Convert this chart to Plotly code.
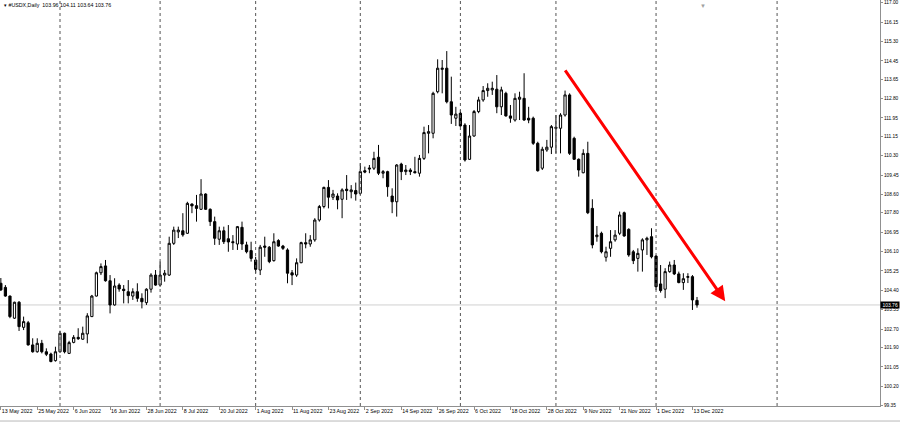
import plotly.graph_objects as go

# ---- data (USDX daily, 13 May 2022 .. 14 Dec 2022), index = trading-day number ----
opens = [104.71,104.53,104.15,103.18,103.88,102.78,102.98,102.01,101.71,102.08,
         101.71,101.61,101.32,101.71,102.52,101.64,102.12,102.34,102.26,102.49,
         103.25,104.15,105.17,105.47,104.82,103.76,104.63,104.45,104.34,104.15,
         104.34,104.05,103.86,104.45,105.07,104.63,105.07,105.07,106.46,106.96,
         107.01,106.90,108.18,108.11,107.95,108.62,107.95,107.41,106.64,107.01,
         106.66,106.53,106.43,107.16,106.39,106.14,105.73,105.29,106.34,106.29,
         105.70,106.58,106.34,106.17,105.17,105.07,105.61,106.49,106.43,106.61,
         107.48,108.07,108.91,108.48,108.53,108.39,108.83,108.72,108.77,108.65,
         109.64,109.76,109.75,110.23,109.53,109.60,108.53,108.28,109.93,109.60,
         109.67,109.60,109.53,110.18,111.28,111.28,113.10,114.08,114.13,112.66,
         111.94,112.16,111.64,110.14,111.16,112.23,112.74,113.15,113.18,113.21,
         112.44,113.03,112.04,111.86,112.77,112.81,111.94,111.94,110.84,109.75,
         110.55,110.67,111.54,111.50,112.08,112.96,111.06,110.14,109.55,110.40,
         107.99,106.75,106.90,105.85,106.24,106.61,106.90,107.80,107.07,106.09,
         105.80,106.17,106.61,106.75,105.90,104.68,104.45,105.22,105.51,105.12,
         104.74,104.97,105.00,103.96]
highs = [104.94,104.63,104.17,103.90,103.93,103.25,103.06,102.30,102.30,102.23,
         101.86,101.67,101.93,102.63,102.55,102.19,102.44,102.74,102.81,103.40,
         104.20,105.22,105.58,105.73,105.07,104.93,104.71,104.63,104.85,104.49,
         104.71,104.27,104.49,105.15,105.29,105.66,105.29,106.75,107.19,107.19,
         107.78,108.28,108.21,108.58,109.27,108.65,107.99,107.63,107.19,107.19,
         107.26,106.82,107.22,107.41,106.53,106.53,105.87,106.39,106.75,106.34,
         106.90,106.64,106.39,106.24,105.29,105.80,106.53,106.90,106.82,107.56,
         108.14,108.94,109.23,108.80,108.65,108.87,109.45,109.01,109.12,109.97,
         109.82,109.89,110.47,110.77,109.67,109.64,108.87,109.93,109.99,109.89,
         109.75,110.25,110.33,111.57,111.64,113.10,114.52,114.49,114.88,113.76,
         112.44,112.30,111.72,111.64,112.30,112.88,113.35,113.47,113.54,113.83,
         113.32,113.10,112.52,113.03,113.10,113.91,112.44,112.01,110.91,110.69,
         110.99,111.64,112.08,112.16,113.15,113.03,111.13,110.18,110.58,110.91,
         108.39,107.22,106.97,106.31,107.04,107.04,107.85,107.85,107.12,106.17,
         106.24,106.68,106.75,107.12,105.95,105.51,105.37,105.66,105.73,105.22,
         105.15,105.15,105.07,104.11]
lows = [104.37,104.12,103.18,103.15,102.62,102.66,101.98,101.67,101.67,101.64,
        101.52,101.25,101.28,101.67,101.64,101.61,102.08,102.23,102.23,102.08,
        103.23,104.13,105.07,104.78,103.39,103.73,104.34,103.83,103.83,103.98,
        103.90,103.61,103.76,104.30,104.60,104.56,104.78,105.03,106.39,106.69,
        106.75,106.87,107.78,107.41,107.92,107.92,107.22,106.39,106.39,106.43,
        106.09,106.17,106.17,106.17,106.02,105.66,105.15,105.07,105.87,105.59,
        105.66,106.31,106.17,104.71,104.63,104.99,105.59,106.24,106.31,106.53,
        107.41,107.99,107.99,108.36,107.95,107.56,108.36,108.43,108.33,108.58,
        109.53,109.53,109.67,109.45,109.31,108.50,107.78,107.63,109.23,109.45,
        109.45,109.53,109.38,110.11,110.40,111.06,113.03,113.03,112.59,111.69,
        111.60,111.57,110.04,110.11,111.13,112.16,112.66,112.88,112.96,112.16,
        112.08,112.01,111.74,111.79,111.86,111.83,111.72,110.77,109.60,109.67,
        110.47,110.37,110.40,110.40,112.01,110.33,110.11,109.38,109.53,107.74,
        106.24,106.53,106.02,105.66,105.87,106.53,106.82,106.75,105.87,105.55,
        105.22,105.22,105.95,105.80,104.42,104.30,104.06,105.17,105.07,104.71,
        104.42,104.72,103.54,103.64]
closes = [104.42,104.15,103.25,103.88,102.81,103.03,102.01,101.71,102.08,101.71,
          101.60,101.28,101.71,102.52,101.71,102.11,102.34,102.28,102.52,103.28,
          104.15,105.17,105.44,104.82,103.76,104.59,104.46,104.39,104.17,104.34,
          104.05,103.90,104.45,105.07,104.63,105.07,105.15,106.46,107.04,107.04,
          106.83,108.21,108.10,107.99,108.62,107.95,107.41,106.68,107.01,106.53,
          106.52,106.49,107.19,106.43,106.09,105.80,105.32,106.29,106.29,105.66,
          106.53,106.34,106.24,105.15,105.07,105.61,106.49,106.43,106.61,107.48,
          108.07,108.91,108.48,108.62,108.36,108.80,108.77,108.80,108.62,109.60,
          109.58,109.72,110.18,109.53,109.60,108.94,108.28,109.89,109.60,109.67,
          109.60,109.55,110.18,111.31,111.35,113.03,114.13,114.13,112.66,112.08,
          112.12,111.60,110.11,111.16,112.23,112.74,113.15,113.25,113.25,112.44,
          113.18,112.04,111.94,112.81,112.86,111.86,111.86,110.84,109.64,110.58,
          110.67,111.57,111.50,112.08,112.96,110.40,110.14,109.67,110.40,107.80,
          106.39,106.82,106.09,106.09,106.53,106.82,107.70,106.78,105.95,105.70,
          106.02,106.61,106.68,105.87,104.56,104.39,105.22,105.51,105.12,104.74,
          104.91,105.00,103.98,103.76]
idx = list(range(len(opens)))

tick_idx = [0, 8, 16, 24, 32, 40, 48, 56, 64, 72, 80, 88, 96, 104, 112, 120, 128, 136, 144, 152]
tick_lbl = ["13 May 2022", "25 May 2022", "6 Jun 2022", "16 Jun 2022", "28 Jun 2022",
            "8 Jul 2022", "20 Jul 2022", "1 Aug 2022", "11 Aug 2022", "23 Aug 2022",
            "2 Sep 2022", "14 Sep 2022", "26 Sep 2022", "6 Oct 2022", "18 Oct 2022",
            "28 Oct 2022", "9 Nov 2022", "21 Nov 2022", "1 Dec 2022", "13 Dec 2022"]
y_ticks = [117.00, 116.15, 115.30, 114.45, 113.65, 112.80, 111.95, 111.15, 110.30,
           109.45, 108.60, 107.80, 106.95, 106.10, 105.25, 104.40, 103.55, 102.70,
           101.90, 101.05, 100.20, 99.35]
y_tick_lbl = ["%.2f" % v for v in y_ticks]
month_sep = [13, 35, 56, 79, 101, 122, 144, 170.6]
last_price = 103.76
arrow_start = (123.8, 114.10)
arrow_end = (159.2, 103.92)
title_text = "#USDX,Daily  103.96 104.11 103.64 103.76"

FONT = "Liberation Sans"

fig = go.Figure()
fig.add_trace(go.Candlestick(
    x=idx, open=opens, high=highs, low=lows, close=closes,
    increasing=dict(fillcolor="white", line=dict(color="black", width=1)),
    decreasing=dict(fillcolor="black", line=dict(color="black", width=1)),
    whiskerwidth=0, showlegend=False, hoverinfo="skip"))

shapes = []
for m in month_sep:
    shapes.append(dict(type="line", xref="x", yref="paper", x0=m, x1=m, y0=0, y1=1,
                       line=dict(color="#555555", width=1, dash="dot")))
shapes.append(dict(type="line", xref="paper", yref="y", x0=0, x1=1, y0=last_price, y1=last_price,
                   line=dict(color="#d0d0d0", width=1), layer="below"))
shapes.append(dict(type="line", xref="paper", yref="paper", x0=0, x1=1.03, y0=-0.037, y1=-0.037,
                   line=dict(color="#b8b8b8", width=1)))

annotations = [
    dict(x=arrow_end[0], y=arrow_end[1], ax=arrow_start[0], ay=arrow_start[1],
         xref="x", yref="y", axref="x", ayref="y", text="", showarrow=True,
         arrowhead=2, arrowsize=1, arrowwidth=3, arrowcolor="#ff0000"),
    dict(x=0.002, y=0.999, xref="paper", yref="paper", xanchor="left", yanchor="top",
         text="▾ " + title_text, showarrow=False,
         font=dict(size=5.3, color="black", family=FONT)),
    dict(x=1.0, y=last_price, xref="paper", yref="y", xanchor="left", yanchor="middle",
         text=" %.2f " % last_price, showarrow=False, bgcolor="black", borderpad=0,
         font=dict(size=5, color="white", family=FONT)),
    dict(x=703 / 880, y=1.0, xref="paper", yref="paper", xanchor="center", yanchor="top",
         text="▼", showarrow=False, font=dict(size=6, color="#a0a0a0")),
]

fig.update_layout(
    width=900, height=423,
    margin=dict(l=0, r=20, t=0, b=17, autoexpand=False),
    paper_bgcolor="white", plot_bgcolor="white",
    shapes=shapes, annotations=annotations,
    xaxis=dict(range=[-0.187, 193.22], tickmode="array", tickvals=tick_idx, ticktext=tick_lbl,
               showgrid=False, zeroline=False, showline=True, linecolor="#909090",
               ticks="outside", ticklen=3, tickcolor="#909090", tickangle=0,
               ticklabelposition="outside right", ticklabeloverflow="allow",
               automargin=False,
               tickfont=dict(size=5.3, color="black", family=FONT),
               rangeslider=dict(visible=False), fixedrange=True),
    yaxis=dict(range=[99.334, 117.118], side="right", tickmode="array", tickvals=y_ticks,
               ticktext=y_tick_lbl, showgrid=False, zeroline=False, showline=True,
               linecolor="#909090", ticks="outside", ticklen=2, tickcolor="#909090",
               ticklabeloverflow="allow", automargin=False,
               tickfont=dict(size=4.8, color="black", family=FONT), fixedrange=True),
)

fig.write_html("out.html", config={"displayModeBar": False},
               post_script="document.body.style.margin='0';document.body.style.overflow='hidden';")
